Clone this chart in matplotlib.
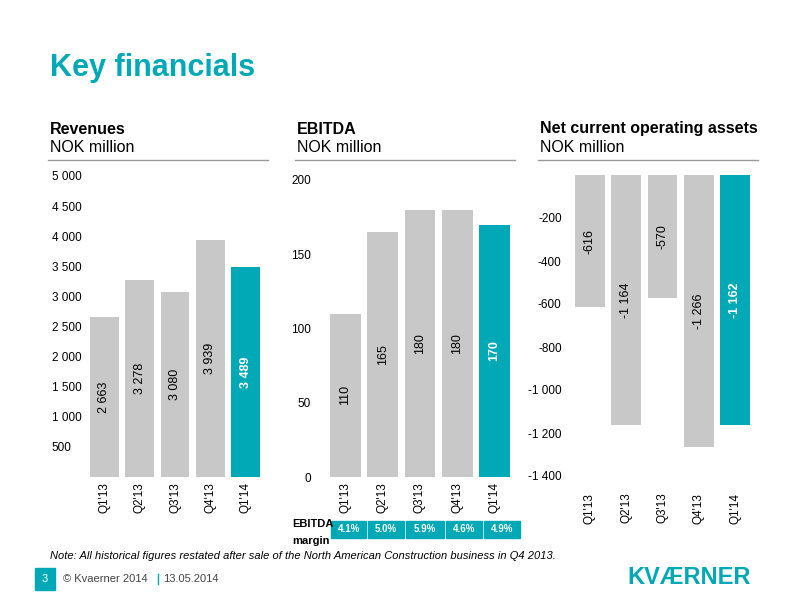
import matplotlib
matplotlib.use("Agg")
import matplotlib.pyplot as plt

quarters = ["Q1'13", "Q2'13", "Q3'13", "Q4'13", "Q1'14"]
revenues = [2663, 3278, 3080, 3939, 3489]
revenue_labels = ["2 663", "3 278", "3 080", "3 939", "3 489"]
ebitda = [110, 165, 180, 180, 170]
ebitda_labels = ["110", "165", "180", "180", "170"]
ncoa = [-616, -1164, -570, -1266, -1162]
ncoa_labels = ["-616", "-1 164", "-570", "-1 266", "-1 162"]
margins = ["4.1%", "5.0%", "5.9%", "4.6%", "4.9%"]

GRAY = "#c8c8c8"
TEAL = "#00a9b5"
W, H = 800, 600
plt.rcParams['font.family'] = ['Liberation Sans', 'DejaVu Sans']

fig = plt.figure(figsize=(8, 6), dpi=100)
fig.patch.set_facecolor("white")

def ax_px(x0, y0, x1, y1):
    return fig.add_axes([x0 / W, 1 - y1 / H, (x1 - x0) / W, (y1 - y0) / H])

fig.text(50 / W, 1 - 68 / H, "Key financials", color=TEAL, fontsize=22, fontweight="bold", va="center")

for x0, title in [(50, "Revenues"), (297, "EBITDA"), (540, "Net current operating assets")]:
    fig.text(x0 / W, 1 - 129 / H, title, fontsize=11.5, fontweight="bold", va="center")
    fig.text(x0 / W, 1 - 148 / H, "NOK million", fontsize=11.5, va="center")
    fig.add_artist(plt.Line2D([(x0 - 2) / W, (x0 + 218) / W], [1 - 160 / H] * 2, color="#999999", lw=1))

def style(ax, ticks, ticklabels):
    for s in ax.spines.values():
        s.set_visible(False)
    ax.set_yticks(ticks)
    ax.set_yticklabels(ticklabels, fontsize=8.5)
    ax.tick_params(axis="y", length=0, pad=4)
    ax.tick_params(axis="x", length=0)
    ax.set_xticks(range(5))
    ax.set_xticklabels(quarters, rotation=90, fontsize=8.5)
    ax.set_xlim(-0.55, 4.55)

def bars(ax, vals, labels):
    cols = [GRAY] * 4 + [TEAL]
    ax.bar(range(5), vals, width=0.82, color=cols)
    for i, (v, l) in enumerate(zip(vals, labels)):
        last = i == 4
        ax.text(i, v / 2, l, rotation=90, ha="center", va="center", fontsize=9,
                color="white" if last else "black", fontweight="bold" if last else "normal")

ax1 = ax_px(85, 176, 265, 477)
ax1.set_ylim(0, 5000)
bars(ax1, revenues, revenue_labels)
t = list(range(500, 5001, 500))
style(ax1, t, [f"{v:,}".replace(",", " ") for v in t])
ax1.tick_params(axis="y", pad=24)
for lab in ax1.get_yticklabels():
    lab.set_horizontalalignment("left")

ax2 = ax_px(325, 180, 515, 477)
ax2.set_ylim(0, 200)
bars(ax2, ebitda, ebitda_labels)
style(ax2, [0, 50, 100, 150, 200], ["0", "50", "100", "150", "200"])
ax2.tick_params(axis="y", pad=10)

ax3 = ax_px(570, 175, 755, 476)
ax3.set_ylim(-1400, 0)
bars(ax3, ncoa, ncoa_labels)
t3 = list(range(-1400, -199, 200))
style(ax3, t3, [f"{v:,}".replace(",", " ") for v in t3])
ax3.tick_params(axis="y", pad=6)
ax3.tick_params(axis="x", pad=12)

# margin table
fig.text(292 / W, 1 - 524 / H, "EBITDA", fontsize=8, fontweight="bold", va="center")
fig.text(292 / W, 1 - 541 / H, "margin", fontsize=8, fontweight="bold", va="center")
cell_x = [330, 367, 405, 445, 483, 521]
for i, m in enumerate(margins):
    x0, x1 = cell_x[i] + 1, cell_x[i + 1] - 1
    fig.add_artist(plt.Rectangle((x0 / W, 1 - 538 / H), (x1 - x0) / W, 17 / H, color=TEAL))
    fig.text((x0 + x1) / 2 / W, 1 - 529.5 / H, m, color="white", fontsize=7, fontweight="bold",
             ha="center", va="center")

fig.text(50 / W, 1 - 556 / H, "Note: All historical figures restated after sale of the North American Construction business in Q4 2013.",
         fontsize=8, style="italic", va="center")
fig.add_artist(plt.Rectangle((35 / W, 1 - 590 / H), 20 / W, 22 / H, color=TEAL))
fig.text(45 / W, 1 - 579 / H, "3", color="white", fontsize=8, ha="center", va="center")
fig.text(63 / W, 1 - 579 / H, "© Kvaerner 2014", fontsize=8, va="center", color="#444444")
fig.text(163 / W, 1 - 579 / H, "13.05.2014", fontsize=8, va="center", color="#444444")
fig.add_artist(plt.Line2D([158 / W] * 2, [1 - 584 / H, 1 - 574 / H], color=TEAL, lw=1))
fig.text(627 / W, 1 - 577 / H, "KVÆRNER", color=TEAL, fontsize=17, fontweight="bold", va="center")

fig.savefig("out.png", dpi=100)
